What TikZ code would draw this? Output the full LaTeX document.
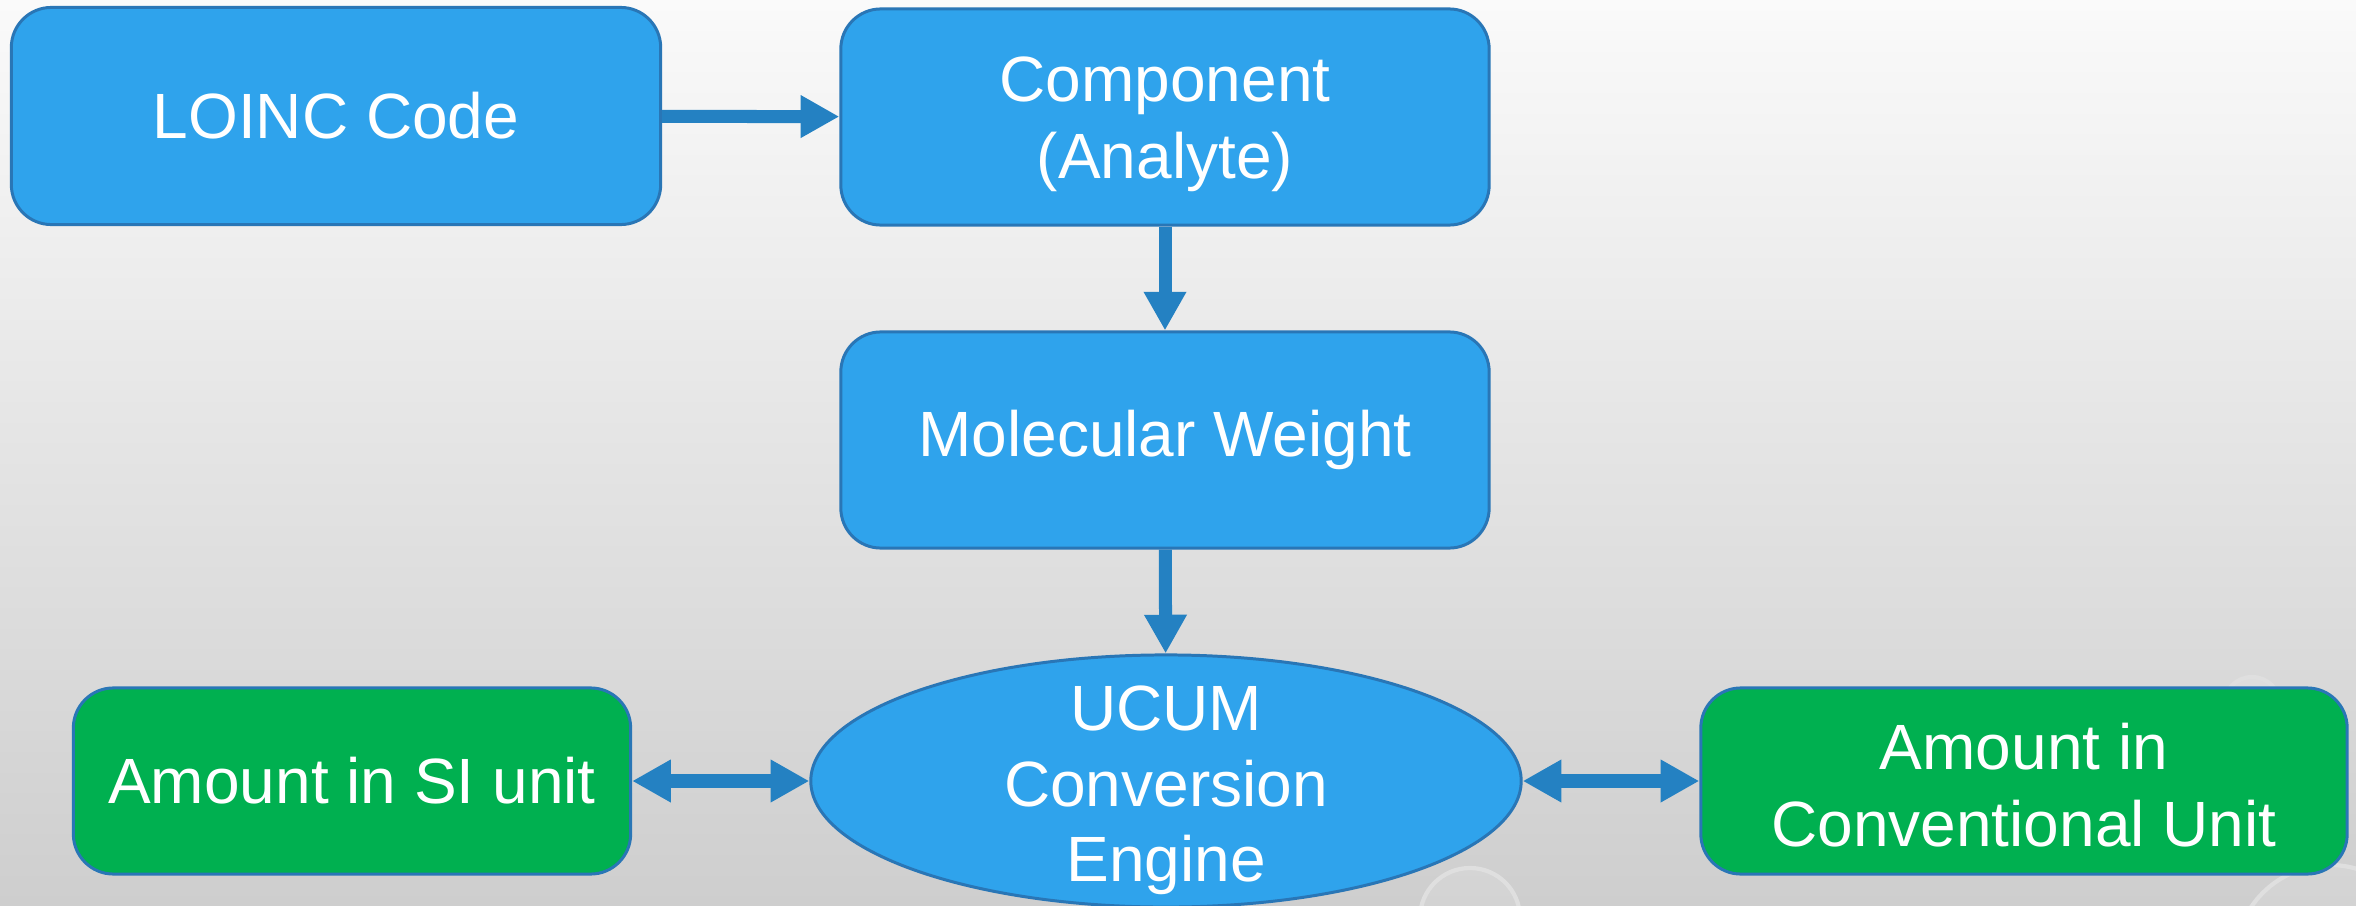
\documentclass[tikz,border=0pt]{standalone}
\usepackage{fontspec}
\setmainfont{Liberation Sans}
\usetikzlibrary{arrows.meta,shapes.geometric}
\definecolor{boxblue}{RGB}{47,163,236}
\definecolor{edgeblue}{RGB}{41,118,182}
\definecolor{arrowblue}{RGB}{36,129,194}
\definecolor{boxgreen}{RGB}{0,176,80}
\definecolor{bgtop}{RGB}{250,250,250}
\definecolor{bgbottom}{RGB}{206,206,206}
\begin{document}
\begin{tikzpicture}[x=0.01cm,y=-0.01cm,
  label text/.style={text=white,font=\fontsize{18.2}{22}\selectfont,align=center},
  stepbox/.style={draw=edgeblue,line width=0.85pt,rounded corners=0.4cm,fill=boxblue,
    inner sep=0pt,label text},
  unitbox/.style={stepbox,fill=boxgreen},
  engine/.style={ellipse,draw=edgeblue,line width=0.85pt,fill=boxblue,inner sep=0pt},
  conn/.style={draw=arrowblue,line width=3.7pt,-{Triangle[length=11pt,width=11.4pt]}},
  biconn/.style={draw=arrowblue,line width=3.7pt,{Triangle[length=11pt,width=11.4pt]}-{Triangle[length=11pt,width=11.4pt]}},
  drop/.style={draw=white!75!gray,line width=1.2pt,fill=white,fill opacity=0.12}
]
% canvas
\useasboundingbox (0,0) rectangle (2356,906);
\clip (0,0) rectangle (2356,906);
\shade[top color=bgtop,bottom color=bgbottom] (0,0) rectangle (2356,906);

% faint water drops in the backdrop
\draw[drop] (1470,918) circle (50);
\draw[drop] (2252,705) circle (28);
\draw[drop] (2330,960) circle (95);

% boxes
\node[stepbox,minimum width=6.49cm,minimum height=2.17cm] (loinc) at (336,116) {LOINC Code};
\node[stepbox,minimum width=6.48cm,minimum height=2.16cm] (comp) at (1165,117) {};
\node[label text] (comptext) at ([yshift=-0.075cm]comp.center) {Component\\(Analyte)};
\node[stepbox,minimum width=6.48cm,minimum height=2.16cm] (mw) at (1165,440) {Molecular Weight};
\node[engine,minimum width=7.1cm,minimum height=2.52cm] (ucum) at (1166,781) {};
\node[label text,font=\fontsize{18.2}{21.5}\selectfont] (ucumtext) at ([yshift=-0.095cm]ucum.center) {UCUM\\Conversion\\Engine};
\node[unitbox,minimum width=5.57cm,minimum height=1.86cm] (si) at (352,781) {Amount in SI unit};
\node[unitbox,minimum width=6.46cm,minimum height=1.86cm] (conv) at (2024,781) {};
\node[label text] (convtext) at ([yshift=-0.04cm]conv.center) {Amount in\\Conventional Unit};

% connectors
\draw[conn] (loinc) -- (comp);
\draw[conn] (comp) -- (mw);
\draw[conn] (mw) -- (ucum);
\draw[biconn] (si) -- (ucum);
\draw[biconn] (ucum) -- (conv);
\end{tikzpicture}
\end{document}
